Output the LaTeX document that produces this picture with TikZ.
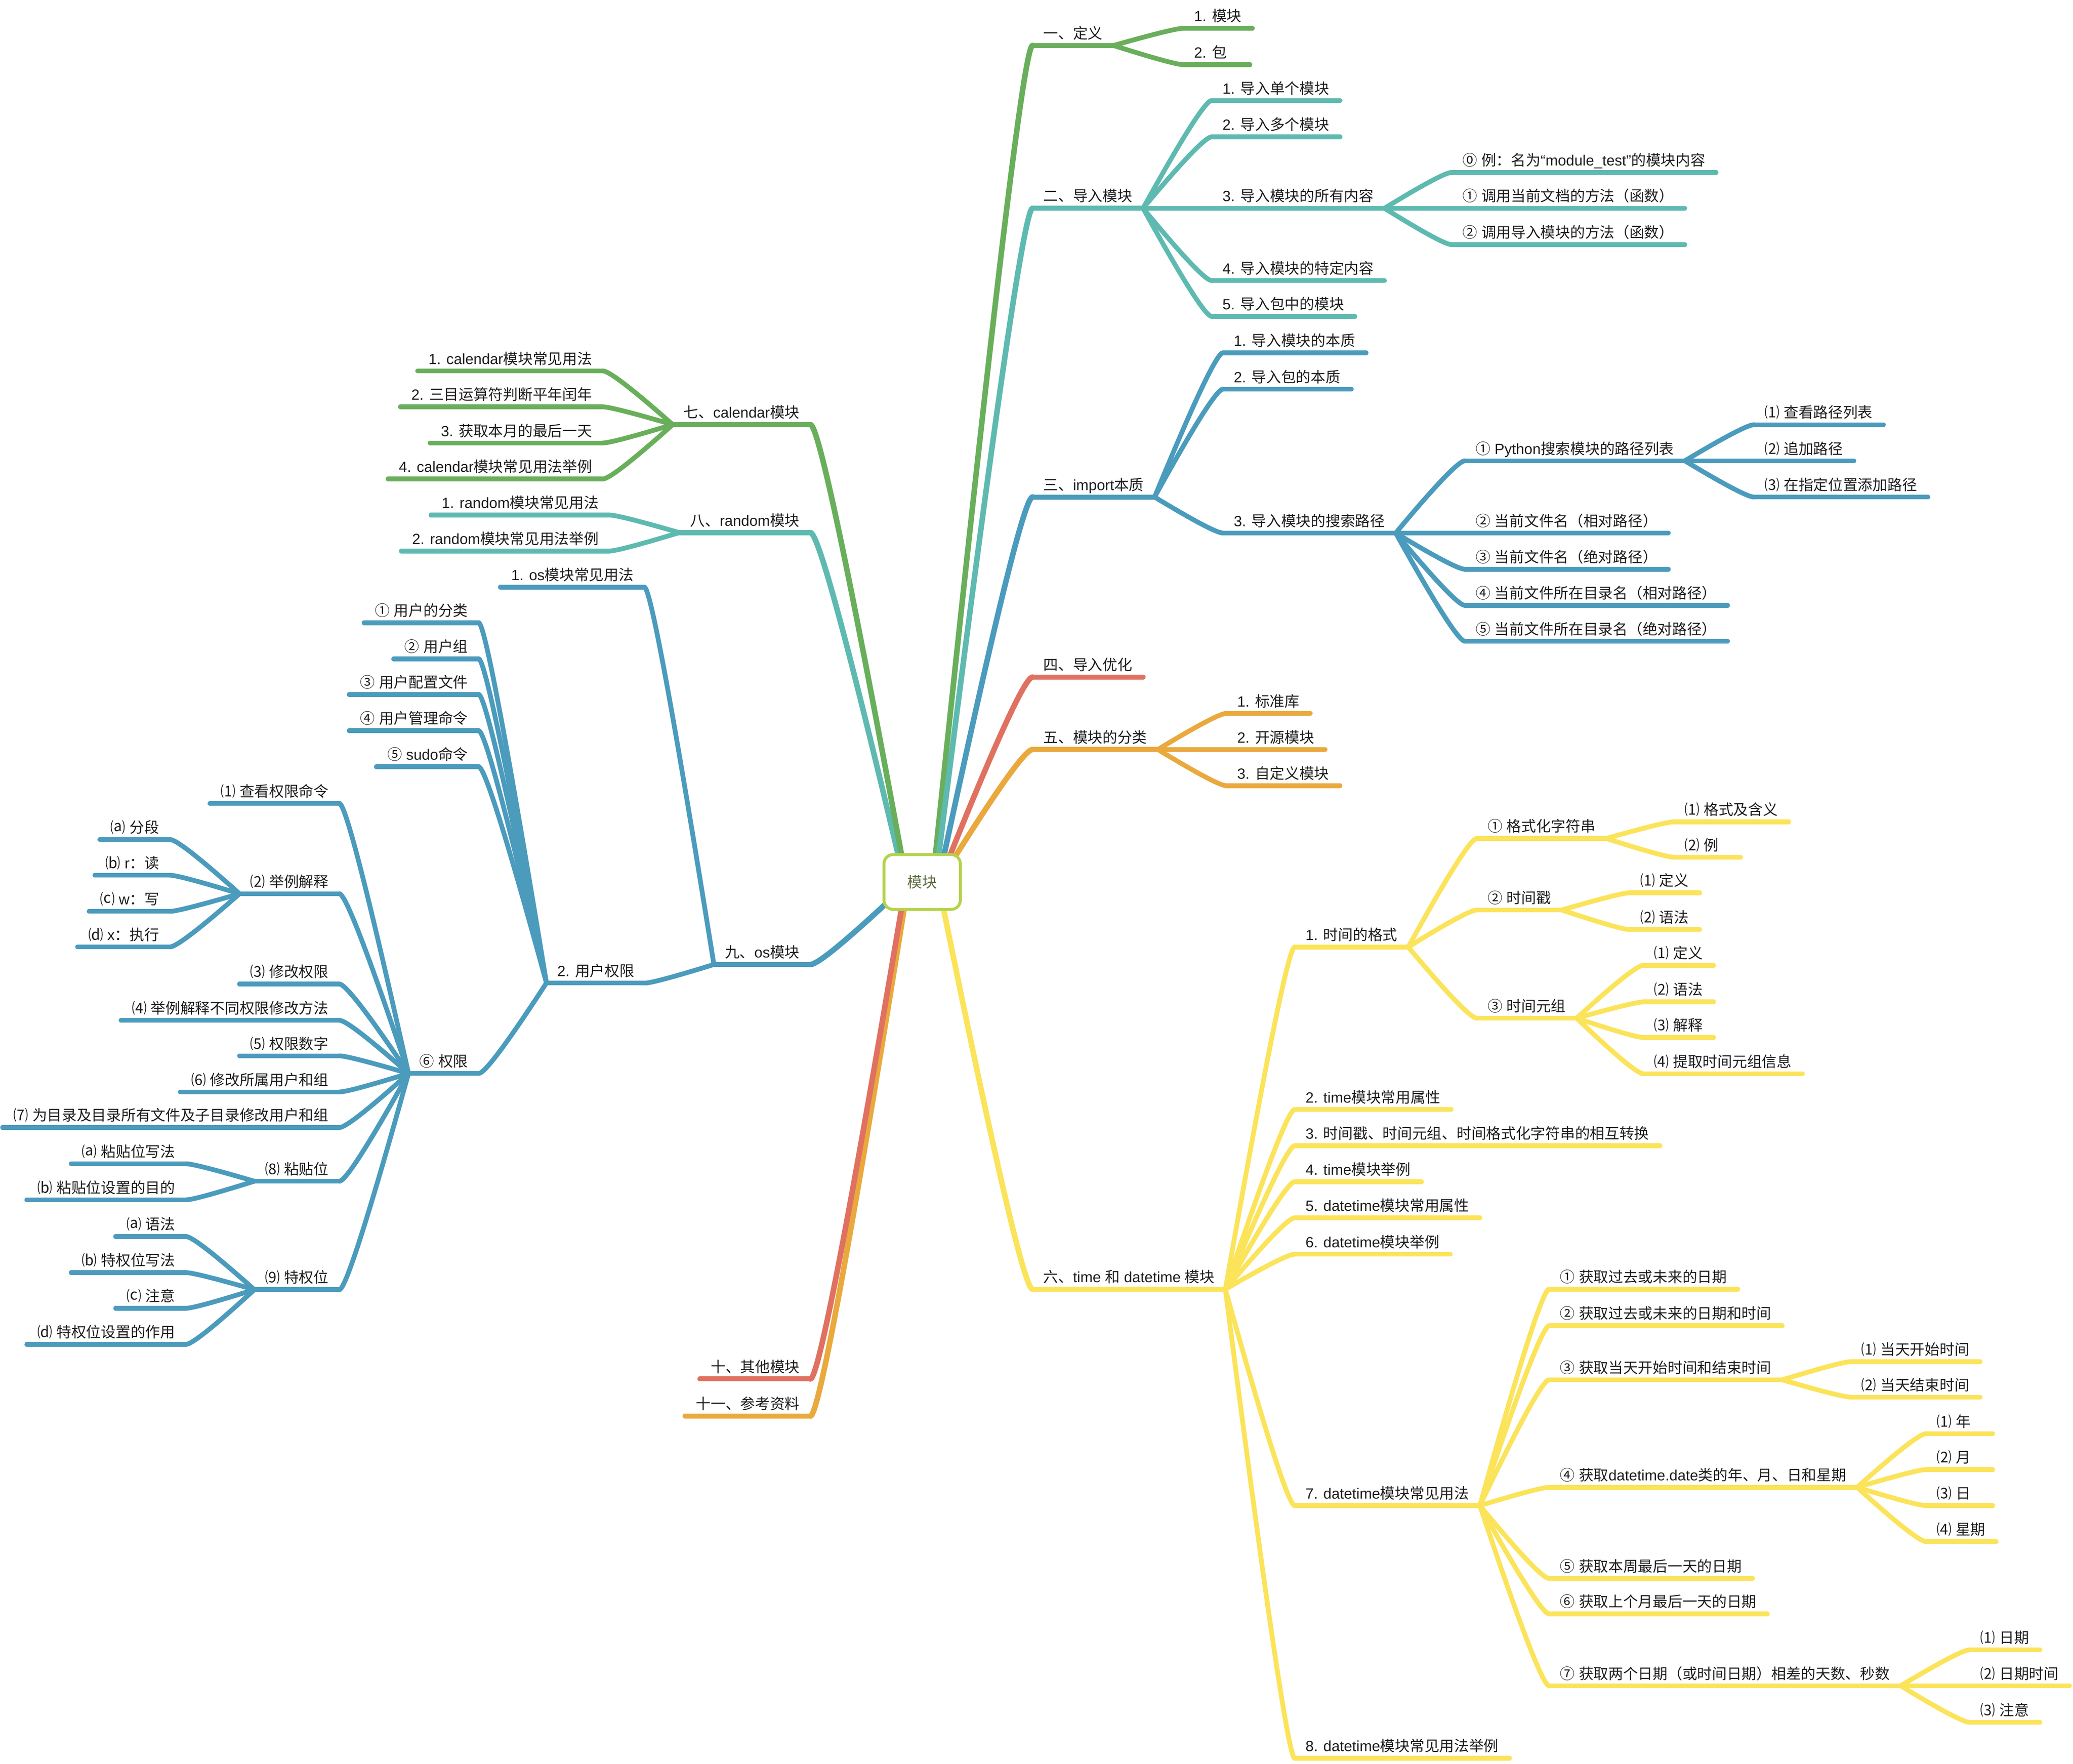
\documentclass[tikz,border=0pt]{standalone}
\usepackage{fontspec}
\setmainfont{Liberation Sans}
\newfontfamily\cjkf{Noto Sans CJK SC}
\newfontfamily\latf{Liberation Sans}
\XeTeXinterchartokenstate=1
\newXeTeXintercharclass\cjkcls
\makeatletter
\newcommand\setcls[2]{\count@=#1\relax\loop\XeTeXcharclass\count@=\cjkcls\relax\ifnum\count@<#2\advance\count@ 1\repeat}
\makeatother
\setcls{"2460}{"24FF}
\setcls{"3000}{"303F}
\setcls{"4E00}{"9FFF}
\setcls{"FF00}{"FFEF}
\XeTeXinterchartoks 0 \cjkcls = {\cjkf}
\XeTeXinterchartoks 4095 \cjkcls = {\cjkf}
\XeTeXinterchartoks \cjkcls 0 = {\latf}
\XeTeXinterchartoks \cjkcls 4095 = {\latf}
\XeTeXinterchartoks 4095 0 = {\latf}
\usetikzlibrary{calc,backgrounds}
\definecolor{gG}{HTML}{69AF5B}
\definecolor{gT}{HTML}{5EBAB0}
\definecolor{gB}{HTML}{4B9BBD}
\definecolor{gR}{HTML}{E07161}
\definecolor{gO}{HTML}{E9A93D}
\definecolor{gY}{HTML}{FBE35A}
\definecolor{cB}{HTML}{B4D24A}
\definecolor{cT}{HTML}{5B6B3C}
\definecolor{txt}{HTML}{1E1E1E}
\newcommand\fz{\fontsize{11.2}{13.4}\selectfont}
\newlength\mylen
\newcommand\minR[1]{\settowidth\mylen{#1}\ifdim\mylen<34pt\makebox[34pt][l]{#1}\else#1\fi}
\newcommand\minL[1]{\settowidth\mylen{#1}\ifdim\mylen<34pt\makebox[34pt][r]{#1}\else#1\fi}
% right / left topics (name, x, y, text, colour)
\newcommand\RT[5]{\node[tn,anchor=south west] (#1) at (#2,#3) {\minR{#4}};\draw[ul,#5] (#1.south west) -- (#1.south east);}
\newcommand\LT[5]{\node[tn,anchor=south east] (#1) at (#2,#3) {\minL{#4}};\draw[ul,#5] (#1.south west) -- (#1.south east);}
\newcommand\MR[5]{\node[tn,anchor=south west] (#1) at (#2,#3) {\minR{#4}};\draw[mul,#5] (#1.south west) -- (#1.south east);}
\newcommand\ML[5]{\node[tn,anchor=south east] (#1) at (#2,#3) {\minL{#4}};\draw[mul,#5] (#1.south west) -- (#1.south east);}
% connectors
\newcommand\CR[3]{\draw[cn,#3] (#1.south east) to[br] (#2.south west);}
\newcommand\CL[3]{\draw[cn,#3] (#1.south west) to[br] (#2.south east);}
\begin{document}
\begin{tikzpicture}[x=1pt,y=-1pt,
  tn/.style={font=\fz, text=txt, inner xsep=8pt, inner ysep=4.9pt, text depth=0pt},
  ul/.style={line width=3.6pt, line cap=round},
  mul/.style={line width=3.8pt, line cap=round},
  cn/.style={line width=3.6pt, line cap=round},
  mcn/.style={line width=4.2pt, line cap=round},
  br/.style={to path={let \p1=(\tikztostart), \p2=(\tikztotarget) in
     .. controls ({\x1+0.58*(\x2-\x1)},{\y1+0.6667*(\y2-\y1)}) and ({\x2-0.0867*(\x2-\x1)},{\y2}) .. (\tikztotarget)}},
  cnode/.style={draw=cB, line width=2.2pt, rounded corners=7pt, fill=white,
     minimum width=57.8pt, minimum height=41.5pt, inner sep=0pt, font=\fz, text=cT}]
\useasboundingbox (0,0) rectangle (1568,1334);

% centre
\node[cnode] (c) at (697.5,667) {模块};
\coordinate (s1) at ($(c.center)+(10,-20)$);
\coordinate (s2) at ($(c.center)+(12.5,-20)$);
\coordinate (s3) at ($(c.center)+(16.5,-20)$);
\coordinate (s4) at ($(c.center)+(21,-20)$);
\coordinate (s5) at ($(c.center)+(24.5,-18.5)$);
\coordinate (s6) at ($(c.center)+(16,19.5)$);
\coordinate (s7) at ($(c.center)+(-15.5,-20)$);
\coordinate (s8) at ($(c.center)+(-18,-20)$);
\coordinate (s9) at ($(c.center)+(-27.5,16.5)$);
\coordinate (s10) at ($(c.center)+(-15.5,19.5)$);
\coordinate (s11) at ($(c.center)+(-13.5,19.5)$);

% ---------- right main topics
\MR{a1}{781}{34.4}{一、定义}{gG}
\MR{a2}{781}{157.5}{二、导入模块}{gT}
\MR{a3}{781}{375.9}{三、import本质}{gB}
\MR{a4}{781}{512.1}{四、导入优化}{gR}
\MR{a5}{781}{566.8}{五、模块的分类}{gO}
\MR{a6}{781}{975}{六、time 和 datetime 模块}{gY}
% ---------- left main topics
\ML{b7}{613}{321.1}{七、calendar模块}{gG}
\ML{b8}{613}{402.8}{八、random模块}{gT}
\ML{b9}{613}{729.4}{九、os模块}{gB}
\ML{b10}{613}{1042.8}{十、其他模块}{gR}
\ML{b11}{613}{1070.9}{十一、参考资料}{gO}

% 一
\RT{a1a}{895}{21.4}{1. 模块}{gG}
\RT{a1b}{895}{48.9}{2. 包}{gG}
% 二
\RT{a2a}{916.5}{76}{1. 导入单个模块}{gT}
\RT{a2b}{916.5}{103.5}{2. 导入多个模块}{gT}
\RT{a2c}{916.5}{157.5}{3. 导入模块的所有内容}{gT}
\RT{a2d}{916.5}{212.2}{4. 导入模块的特定内容}{gT}
\RT{a2e}{916.5}{239.3}{5. 导入包中的模块}{gT}
\RT{a2c0}{1098}{130.4}{⓪ 例：名为“module\_test”的模块内容}{gT}
\RT{a2c1}{1098}{157.5}{① 调用当前文档的方法（函数）}{gT}
\RT{a2c2}{1098}{185}{② 调用导入模块的方法（函数）}{gT}
% 三
\RT{a3a}{925}{266.8}{1. 导入模块的本质}{gB}
\RT{a3b}{925}{294.3}{2. 导入包的本质}{gB}
\RT{a3c}{925}{403.1}{3. 导入模块的搜索路径}{gB}
\RT{a3c1}{1108}{348.5}{① Python搜索模块的路径列表}{gB}
\RT{a3c2}{1108}{403.1}{② 当前文件名（相对路径）}{gB}
\RT{a3c3}{1108}{430.5}{③ 当前文件名（绝对路径）}{gB}
\RT{a3c4}{1108}{457.8}{④ 当前文件所在目录名（相对路径）}{gB}
\RT{a3c5}{1108}{484.9}{⑤ 当前文件所在目录名（绝对路径）}{gB}
\RT{a3c1a}{1326.7}{321.2}{⑴ 查看路径列表}{gB}
\RT{a3c1b}{1326.7}{348.5}{⑵ 追加路径}{gB}
\RT{a3c1c}{1326.7}{375.9}{⑶ 在指定位置添加路径}{gB}
% 五
\RT{a5a}{927.6}{539.5}{1. 标准库}{gO}
\RT{a5b}{927.6}{566.8}{2. 开源模块}{gO}
\RT{a5c}{927.6}{594.2}{3. 自定义模块}{gO}
% 六
\RT{a6a}{979.3}{716.2}{1. 时间的格式}{gY}
\RT{a6b}{979.3}{839}{2. time模块常用属性}{gY}
\RT{a6c}{979.3}{866.5}{3. 时间戳、时间元组、时间格式化字符串的相互转换}{gY}
\RT{a6d}{979.3}{893.7}{4. time模块举例}{gY}
\RT{a6e}{979.3}{921}{5. datetime模块常用属性}{gY}
\RT{a6f}{979.3}{948.5}{6. datetime模块举例}{gY}
\RT{a6g}{979.3}{1138.6}{7. datetime模块常见用法}{gY}
\RT{a6h}{979.3}{1329.7}{8. datetime模块常见用法举例}{gY}
\RT{a6a1}{1117}{634.1}{① 格式化字符串}{gY}
\RT{a6a2}{1117}{688.2}{② 时间戳}{gY}
\RT{a6a3}{1117}{770}{③ 时间元组}{gY}
\RT{a6a1a}{1266.2}{621.5}{⑴ 格式及含义}{gY}
\RT{a6a1b}{1266.2}{648.3}{⑵ 例}{gY}
\RT{a6a2a}{1232.5}{675.2}{⑴ 定义}{gY}
\RT{a6a2b}{1232.5}{703}{⑵ 语法}{gY}
\RT{a6a3a}{1243}{730}{⑴ 定义}{gY}
\RT{a6a3b}{1243}{757.7}{⑵ 语法}{gY}
\RT{a6a3c}{1243}{784.6}{⑶ 解释}{gY}
\RT{a6a3d}{1243}{812}{⑷ 提取时间元组信息}{gY}
\RT{a6g1}{1171.7}{975}{① 获取过去或未来的日期}{gY}
\RT{a6g2}{1171.7}{1002.6}{② 获取过去或未来的日期和时间}{gY}
\RT{a6g3}{1171.7}{1043.5}{③ 获取当天开始时间和结束时间}{gY}
\RT{a6g4}{1171.7}{1124.8}{④ 获取datetime.date类的年、月、日和星期}{gY}
\RT{a6g5}{1171.7}{1193.7}{⑤ 获取本周最后一天的日期}{gY}
\RT{a6g6}{1171.7}{1220.5}{⑥ 获取上个月最后一天的日期}{gY}
\RT{a6g7}{1171.7}{1274.9}{⑦ 获取两个日期（或时间日期）相差的天数、秒数}{gY}
\RT{a6g3a}{1399.8}{1029.8}{⑴ 当天开始时间}{gY}
\RT{a6g3b}{1399.8}{1056.6}{⑵ 当天结束时间}{gY}
\RT{a6g4a}{1456.8}{1084.2}{⑴ 年}{gY}
\RT{a6g4b}{1456.8}{1111.4}{⑵ 月}{gY}
\RT{a6g4c}{1456.8}{1138.6}{⑶ 日}{gY}
\RT{a6g4d}{1456.8}{1165.8}{⑷ 星期}{gY}
\RT{a6g7a}{1489.8}{1247.7}{⑴ 日期}{gY}
\RT{a6g7b}{1489.8}{1274.9}{⑵ 日期时间}{gY}
\RT{a6g7c}{1489.8}{1302.5}{⑶ 注意}{gY}
% 七
\LT{b7a}{456}{280.5}{1. calendar模块常见用法}{gG}
\LT{b7b}{456}{307.7}{2. 三目运算符判断平年闰年}{gG}
\LT{b7c}{456}{335}{3. 获取本月的最后一天}{gG}
\LT{b7d}{456}{362.2}{4. calendar模块常见用法举例}{gG}
% 八
\LT{b8a}{461}{389.5}{1. random模块常见用法}{gT}
\LT{b8b}{461}{416.7}{2. random模块常见用法举例}{gT}
% 九
\LT{b9a}{487.4}{444}{1. os模块常见用法}{gB}
\LT{b9b}{488}{743.4}{2. 用户权限}{gB}
\LT{b9b1}{362.1}{471}{① 用户的分类}{gB}
\LT{b9b2}{362.1}{498.3}{② 用户组}{gB}
\LT{b9b3}{362.1}{525.2}{③ 用户配置文件}{gB}
\LT{b9b4}{362.1}{552.6}{④ 用户管理命令}{gB}
\LT{b9b5}{362.1}{579.9}{⑤ sudo命令}{gB}
\LT{b9b6}{362.1}{811.8}{⑥ 权限}{gB}
\LT{p1}{256.7}{607.6}{⑴ 查看权限命令}{gB}
\LT{p2}{256.7}{675.9}{⑵ 举例解释}{gB}
\LT{p3}{256.7}{744.2}{⑶ 修改权限}{gB}
\LT{p4}{256.7}{771.6}{⑷ 举例解释不同权限修改方法}{gB}
\LT{p5}{256.7}{798.5}{⑸ 权限数字}{gB}
\LT{p6}{256.7}{825.8}{⑹ 修改所属用户和组}{gB}
\LT{p7}{256.7}{852.7}{⑺ 为目录及目录所有文件及子目录修改用户和组}{gB}
\LT{p8}{256.7}{893.3}{⑻ 粘贴位}{gB}
\LT{p9}{256.7}{975.3}{⑼ 特权位}{gB}
\LT{p2a}{128.6}{634.9}{⒜ 分段}{gB}
\LT{p2b}{128.6}{661.9}{⒝ r：读}{gB}
\LT{p2c}{128.6}{689.2}{⒞ w：写}{gB}
\LT{p2d}{128.6}{716.1}{⒟ x：执行}{gB}
\LT{p8a}{140.6}{880.1}{⒜ 粘贴位写法}{gB}
\LT{p8b}{140.6}{907.4}{⒝ 粘贴位设置的目的}{gB}
\LT{p9a}{140.6}{935.1}{⒜ 语法}{gB}
\LT{p9b}{140.6}{962.4}{⒝ 特权位写法}{gB}
\LT{p9c}{140.6}{989.4}{⒞ 注意}{gB}
\LT{p9d}{140.6}{1016.7}{⒟ 特权位设置的作用}{gB}

\begin{scope}[on background layer]
\fill[white] (0,0) rectangle (1568,1334);
% main branches
\draw[mcn,gG] (s1) to[br] (a1.south west);
\draw[mcn,gT] (s2) to[br] (a2.south west);
\draw[mcn,gB] (s3) to[br] (a3.south west);
\draw[mcn,gR] (s4) to[br] (a4.south west);
\draw[mcn,gO] (s5) to[br] (a5.south west);
\draw[mcn,gY] (s6) to[br] (a6.south west);
\draw[mcn,gT] (s8) to[br] (b8.south east);
\draw[mcn,gG] (s7) to[br] (b7.south east);
\draw[mcn,gB] (s9) to[br] (b9.south east);
\draw[mcn,gO] (s11) to[br] (b11.south east);
\draw[mcn,gR] (s10) to[br] (b10.south east);
% 一
\CR{a1}{a1a}{gG}\CR{a1}{a1b}{gG}
% 二
\CR{a2}{a2a}{gT}\CR{a2}{a2b}{gT}\CR{a2}{a2c}{gT}\CR{a2}{a2d}{gT}\CR{a2}{a2e}{gT}
\CR{a2c}{a2c0}{gT}\CR{a2c}{a2c1}{gT}\CR{a2c}{a2c2}{gT}
% 三
\CR{a3}{a3a}{gB}\CR{a3}{a3b}{gB}\CR{a3}{a3c}{gB}
\CR{a3c}{a3c1}{gB}\CR{a3c}{a3c2}{gB}\CR{a3c}{a3c3}{gB}\CR{a3c}{a3c4}{gB}\CR{a3c}{a3c5}{gB}
\CR{a3c1}{a3c1a}{gB}\CR{a3c1}{a3c1b}{gB}\CR{a3c1}{a3c1c}{gB}
% 五
\CR{a5}{a5a}{gO}\CR{a5}{a5b}{gO}\CR{a5}{a5c}{gO}
% 六
\CR{a6}{a6a}{gY}\CR{a6}{a6b}{gY}\CR{a6}{a6c}{gY}\CR{a6}{a6d}{gY}
\CR{a6}{a6e}{gY}\CR{a6}{a6f}{gY}\CR{a6}{a6g}{gY}\CR{a6}{a6h}{gY}
\CR{a6a}{a6a1}{gY}\CR{a6a}{a6a2}{gY}\CR{a6a}{a6a3}{gY}
\CR{a6a1}{a6a1a}{gY}\CR{a6a1}{a6a1b}{gY}
\CR{a6a2}{a6a2a}{gY}\CR{a6a2}{a6a2b}{gY}
\CR{a6a3}{a6a3a}{gY}\CR{a6a3}{a6a3b}{gY}\CR{a6a3}{a6a3c}{gY}\CR{a6a3}{a6a3d}{gY}
\CR{a6g}{a6g1}{gY}\CR{a6g}{a6g2}{gY}\CR{a6g}{a6g3}{gY}\CR{a6g}{a6g4}{gY}
\CR{a6g}{a6g5}{gY}\CR{a6g}{a6g6}{gY}\CR{a6g}{a6g7}{gY}
\CR{a6g3}{a6g3a}{gY}\CR{a6g3}{a6g3b}{gY}
\CR{a6g4}{a6g4a}{gY}\CR{a6g4}{a6g4b}{gY}\CR{a6g4}{a6g4c}{gY}\CR{a6g4}{a6g4d}{gY}
\CR{a6g7}{a6g7a}{gY}\CR{a6g7}{a6g7b}{gY}\CR{a6g7}{a6g7c}{gY}
% 七 八
\CL{b7}{b7a}{gG}\CL{b7}{b7b}{gG}\CL{b7}{b7c}{gG}\CL{b7}{b7d}{gG}
\CL{b8}{b8a}{gT}\CL{b8}{b8b}{gT}
% 九
\CL{b9}{b9a}{gB}\CL{b9}{b9b}{gB}
\CL{b9b}{b9b1}{gB}\CL{b9b}{b9b2}{gB}\CL{b9b}{b9b3}{gB}\CL{b9b}{b9b4}{gB}\CL{b9b}{b9b5}{gB}\CL{b9b}{b9b6}{gB}
\CL{b9b6}{p1}{gB}\CL{b9b6}{p2}{gB}\CL{b9b6}{p3}{gB}\CL{b9b6}{p4}{gB}\CL{b9b6}{p5}{gB}
\CL{b9b6}{p6}{gB}\CL{b9b6}{p7}{gB}\CL{b9b6}{p8}{gB}\CL{b9b6}{p9}{gB}
\CL{p2}{p2a}{gB}\CL{p2}{p2b}{gB}\CL{p2}{p2c}{gB}\CL{p2}{p2d}{gB}
\CL{p8}{p8a}{gB}\CL{p8}{p8b}{gB}
\CL{p9}{p9a}{gB}\CL{p9}{p9b}{gB}\CL{p9}{p9c}{gB}\CL{p9}{p9d}{gB}
\end{scope}
\end{tikzpicture}
\end{document}
